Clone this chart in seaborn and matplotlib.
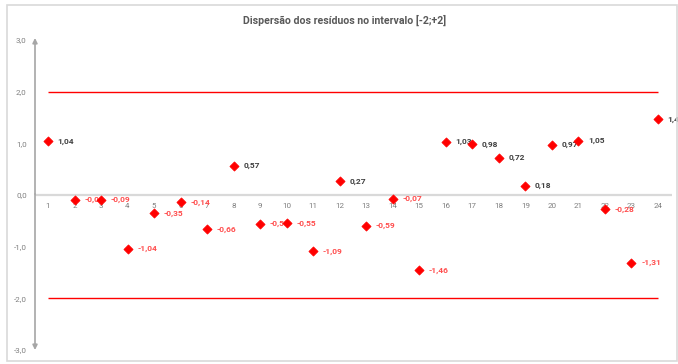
import matplotlib
matplotlib.use("Agg")
import matplotlib.pyplot as plt
from matplotlib.patches import Rectangle
import seaborn as sns
import pandas as pd

# Residuals per observation
observations = list(range(1, 25))
residuals = [1.04, -0.09, -0.09, -1.04, -0.35, -0.14, -0.66, 0.57, -0.56, -0.55,
             -1.09, 0.27, -0.59, -0.07, -1.46, 1.03, 0.98, 0.72, 0.18, 0.97,
             1.05, -0.28, -1.31, 1.47]
limits = [2.0, -2.0]
y_ticks = [3.0, 2.0, 1.0, 0.0, -1.0, -2.0, -3.0]
title = "Dispersão dos resíduos no intervalo [-2;+2]"

sns.set_theme(style="white")
plt.rcParams["font.family"] = ["Roboto", "DejaVu Sans"]

W, H = 678, 364
fig = plt.figure(figsize=(W / 100, H / 100), dpi=100)
fig.patch.set_facecolor("white")

# chart area border
fig.add_artist(Rectangle((7 / W, 1 - 361 / H), 670 / W, 356 / H,
                         transform=fig.transFigure, fill=False,
                         edgecolor="#D9D9D9", linewidth=1.2))

ax = fig.add_axes([35 / W, 1 - 350 / H, 637 / W, 312 / H])
ax.set_xlim(0.51, 24.53)
ax.set_ylim(-3.0, 3.04)
for s in ax.spines.values():
    s.set_visible(False)

df = pd.DataFrame({"obs": observations, "res": residuals})

# horizontal zero axis
ax.axhline(0, color="#D9D9D9", linewidth=1.6, zorder=1)

# vertical axis with arrow heads at both ends
ax.annotate("", xy=(0, 1), xytext=(0, 0.5), xycoords="axes fraction",
            arrowprops=dict(arrowstyle="-|>", color="#A6A6A6", lw=1.2,
                            mutation_scale=7, shrinkA=0, shrinkB=0))
ax.annotate("", xy=(0, 0), xytext=(0, 0.5), xycoords="axes fraction",
            arrowprops=dict(arrowstyle="-|>", color="#A6A6A6", lw=1.2,
                            mutation_scale=7, shrinkA=0, shrinkB=0))

# limit lines
ax.hlines(limits, observations[0], observations[-1], color="#FF0000",
          linewidth=1.0, zorder=2)

sns.scatterplot(data=df, x="obs", y="res", marker="D", color="#FF0000",
                edgecolor="#FF0000", s=22, linewidth=0.5, zorder=4, ax=ax,
                legend=False)

for x, y in zip(observations, residuals):
    txt = f"{y:.2f}".replace(".", ",")
    col = "#404040" if y >= 0 else "#FF4D4D"
    ax.annotate(txt, (x, y), xytext=(7, 0), textcoords="offset points",
                ha="left", va="center", fontsize=6, color=col,
                fontweight="semibold", zorder=3)

# category labels under the zero line
for x in observations:
    ax.annotate(str(x), (x, 0), xytext=(0, -6), textcoords="offset points",
                ha="center", va="top", fontsize=5.8, color="#7F7F7F",
                zorder=2)

ax.set_xticks([])
ax.set_yticks(y_ticks)
ax.set_yticklabels([f"{v:.1f}".replace(".", ",") for v in y_ticks],
                   fontsize=5.8, color="#7F7F7F")
ax.tick_params(axis="y", length=0, pad=6)
ax.set_xlabel("")
ax.set_ylabel("")

fig.text(345 / W, 1 - 20 / H, title, ha="center", va="center", fontsize=7.6,
         fontweight="bold", color="#595959")

fig.savefig("out.png", dpi=100, facecolor="white")
